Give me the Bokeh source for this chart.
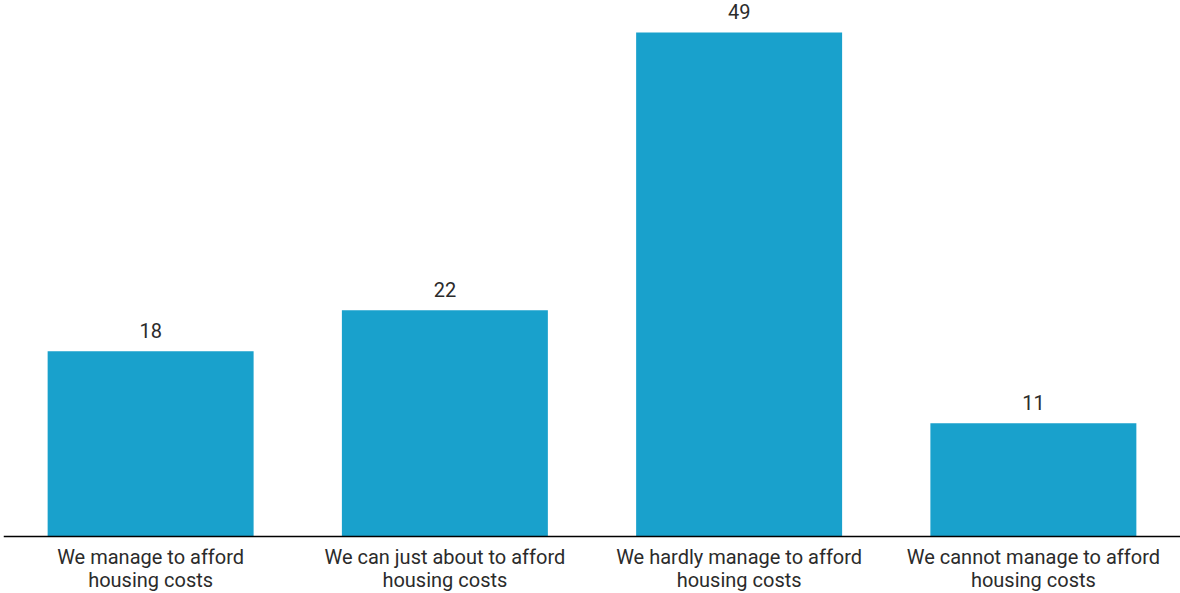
from bokeh.plotting import figure
from bokeh.models import ColumnDataSource, Range1d, FactorRange, Span
from bokeh.core.properties import value
from bokeh.embed import file_html
from bokeh.resources import INLINE

categories = [
    "We manage to afford\nhousing costs",
    "We can just about to afford\nhousing costs",
    "We hardly manage to afford\nhousing costs",
    "We cannot manage to afford\nhousing costs",
]
values = [18, 22, 49, 11]
labels = [str(v) for v in values]

line1 = [c.split("\n")[0] for c in categories]
line2 = [c.split("\n")[1] for c in categories]
zeros = [0] * len(categories)

src = ColumnDataSource(dict(cat=categories, val=values, lab=labels,
                            l1=line1, l2=line2, zero=zeros))

p = figure(width=1180, height=593, output_backend="svg", toolbar_location=None,
           x_range=FactorRange(*categories, range_padding=0),
           y_range=Range1d(-5.54, 52.11),
           min_border_left=3, min_border_right=0, min_border_top=0, min_border_bottom=0)
p.outline_line_color = None
p.xgrid.visible = False
p.ygrid.visible = False
p.yaxis.visible = False
p.xaxis.visible = False

p.vbar(x="cat", top="val", width=0.7, source=src, color="#19a1cc", line_color=None)
p.add_layout(Span(location=0, dimension="width", line_color="#000000", line_width=1.5))

p.text(x="cat", y="val", text="lab", source=src, text_align="center",
       text_baseline="alphabetic", y_offset=-21, text_font=value("Roboto"),
       text_font_size="20px", text_color="#2b2b2b")
p.text(x="cat", y="zero", text="l1", source=src, text_align="center",
       text_baseline="alphabetic", y_offset=20, text_font=value("Roboto"),
       text_font_size="20px", text_color="#2b2b2b")
p.text(x="cat", y="zero", text="l2", source=src, text_align="center",
       text_baseline="alphabetic", y_offset=43, text_font=value("Roboto"),
       text_font_size="20px", text_color="#2b2b2b")

open("out.html", "w").write(file_html(p, INLINE))
